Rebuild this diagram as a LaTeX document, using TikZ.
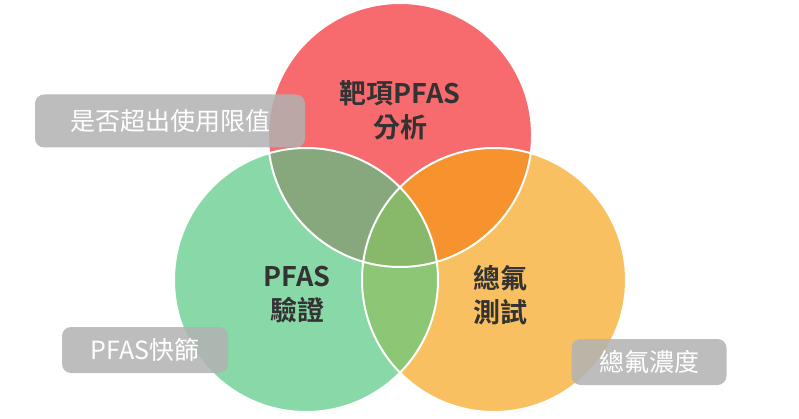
\documentclass[tikz,border=0pt]{standalone}
\usepackage{fontspec}
\newfontfamily\cjk{Noto Sans CJK TC}
\newfontfamily\cjkb{Noto Sans CJK TC Bold}
\definecolor{cr}{HTML}{F76A6E}
\definecolor{cg}{HTML}{88D8A8}
\definecolor{co}{HTML}{F9C062}
\definecolor{crg}{HTML}{86A87C}
\definecolor{cro}{HTML}{F7932F}
\definecolor{cgo}{HTML}{8BC774}
\definecolor{call}{HTML}{88B86A}
\definecolor{tx}{HTML}{333333}
\tikzset{lab/.style={font=\cjkb\fontsize{27}{34}\selectfont,text=tx,align=center},
tag/.style={fill=gray!60,fill opacity=0.85,text opacity=1,rounded corners=9pt,text=white,font=\cjk\fontsize{25}{30}\selectfont,inner sep=0pt}}
\begin{document}
\begin{tikzpicture}[x=1pt,y=-1pt]
\useasboundingbox (0,0) rectangle (799,419);
\def\R{132}
\coordinate (r) at (400,135);
\coordinate (g) at (306,280);
\coordinate (o) at (494,280);
\fill[cr] (r) circle (\R);
\fill[cg] (g) circle (\R);
\fill[co] (o) circle (\R);
\begin{scope}\clip (r) circle (\R); \fill[crg] (g) circle (\R); \fill[cro] (o) circle (\R);\end{scope}
\begin{scope}\clip (g) circle (\R); \fill[cgo] (o) circle (\R);\end{scope}
\begin{scope}\clip (r) circle (\R); \clip (g) circle (\R); \fill[call] (o) circle (\R);\end{scope}
\draw[white,line width=2pt] (r) circle (\R) (g) circle (\R) (o) circle (\R);
\node[lab] (t1) at (400,110) {靶項PFAS\\分析};
\node[lab] (t2) at (297,295) {PFAS\\驗證};
\node[lab] (t3) at (500,295) {總氟\\測試};
\node[tag,minimum width=270pt,minimum height=53pt] (b1) at (170,121) {是否超出使用限值};
\node[tag,minimum width=166pt,minimum height=46pt] (b2) at (145,350) {PFAS快篩};
\node[tag,minimum width=155pt,minimum height=46pt] (b3) at (649,362) {總氟濃度};
\end{tikzpicture}
\end{document}
